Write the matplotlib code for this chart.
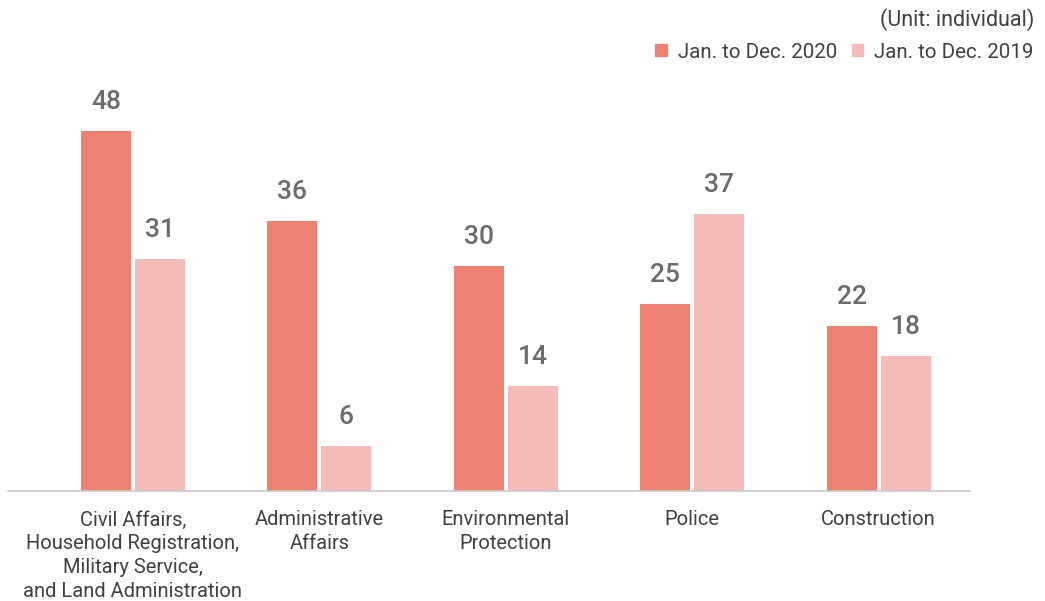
import numpy as np
import matplotlib.pyplot as plt
from matplotlib.patches import Patch

plt.rcParams['font.family'] = ['Roboto', 'DejaVu Sans']

categories = ['Civil Affairs,\nHousehold Registration,\nMilitary Service,\nand Land Administration',
              'Administrative\nAffairs',
              'Environmental\nProtection',
              'Police',
              'Construction']
counts_2020 = [48, 36, 30, 25, 22]
counts_2019 = [31, 6, 14, 37, 18]
series_names = ['Jan. to Dec. 2020', 'Jan. to Dec. 2019']

c2020 = '#ee8172'
c2019 = '#f5bcb7'

fig = plt.figure(figsize=(10.45, 6.01), dpi=100)
ax = fig.add_axes([8 / 1045, 110 / 601, 962 / 1045, 411 / 601])

x = np.arange(len(categories))
w = 0.268
off = 0.145
b1 = ax.bar(x - off, counts_2020, width=w, color=c2020)
b2 = ax.bar(x + off, counts_2019, width=w, color=c2019)

for bars, vals in [(b1, counts_2020), (b2, counts_2019)]:
    for rect, v in zip(bars, vals):
        ax.annotate(str(v), (rect.get_x() + rect.get_width() / 2, v),
                    xytext=(0, 12), textcoords='offset points',
                    ha='center', va='bottom', fontsize=19, fontweight='medium',
                    color='#6b6b6b')

ax.set_xlim(-0.67, 4.49)
ax.set_ylim(0, 54.8)
ax.set_xticks(x)
ax.set_xticklabels(categories, fontsize=14.5, color='#404040', linespacing=1.32)
ax.tick_params(axis='x', length=0, pad=14)
ax.set_yticks([])
for s in ['top', 'right', 'left']:
    ax.spines[s].set_visible(False)
ax.spines['bottom'].set_color('#c8c8c8')
ax.spines['bottom'].set_linewidth(1.2)

fig.text(1034 / 1045, 1 - 20 / 601, '(Unit: individual)', ha='right', va='center',
         fontsize=15.5, color='#404040')

handles = [Patch(color=c2020, label=series_names[0]),
           Patch(color=c2019, label=series_names[1])]
fig.legend(handles=handles, loc='center right', bbox_to_anchor=(1052 / 1045, 1 - 52 / 601),
           ncol=2, frameon=False, fontsize=14.8, handlelength=0.55, handleheight=0.55,
           handletextpad=0.55, columnspacing=0.7, labelcolor='#404040')

fig.savefig('out.png', dpi=100)
